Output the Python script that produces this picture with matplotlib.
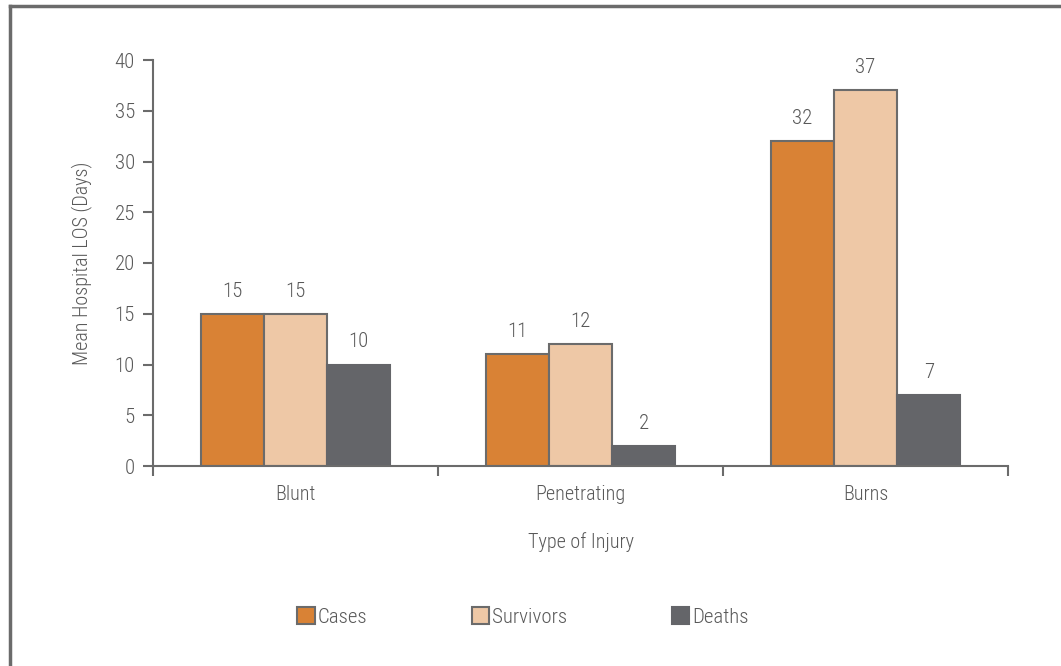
import matplotlib
matplotlib.use("Agg")
import matplotlib.pyplot as plt
import numpy as np
from matplotlib.patches import Patch
from matplotlib.lines import Line2D

plt.rcParams['font.family'] = ['Roboto Condensed', 'DejaVu Sans']
plt.rcParams['font.weight'] = 'light'
plt.rcParams['axes.labelweight'] = 'light'

categories = ["Blunt", "Penetrating", "Burns"]
series = ["Cases", "Survivors", "Deaths"]
cases = [15, 11, 32]
survivors = [15, 12, 37]
deaths = [10, 2, 7]
values = [cases, survivors, deaths]
colors = ["#d98235", "#eec8a6", "#646569"]
edges = ["#6b6b6b", "#6b6b6b", "#646569"]
txt = "#595959"

W, H = 1061, 666
fig = plt.figure(figsize=(W/100, H/100), dpi=100)
ax = fig.add_axes([153/W, 1-466/H, (1008-153)/W, (466-60)/H])

x = np.arange(len(categories))
bw = 0.222
for i, (vals, c, e) in enumerate(zip(values, colors, edges)):
    pos = x + (i-1)*bw
    ax.bar(pos, vals, width=bw, color=c, edgecolor=e, linewidth=1.5, zorder=2)
    for p, v in zip(pos, vals):
        ax.text(p, v+1.3, str(v), ha='center', va='bottom', fontsize=15, color=txt,
                fontweight='light')

ax.set_xlim(-0.5, 2.5)
ax.set_ylim(0, 40)
ax.set_yticks(range(0, 41, 5))
ax.set_xticks([-0.5, 0.5, 1.5, 2.5])
ax.set_xticklabels([])
ax.set_xticks(x, minor=True)
ax.set_xticklabels(categories, minor=True)
ax.tick_params(axis='x', which='minor', length=0, pad=14, labelsize=14.5, labelcolor=txt)
ax.tick_params(axis='x', which='major', length=7, direction='out', width=1.5, color='#6b6b6b')
ax.tick_params(axis='y', length=7, width=1.5, color='#6b6b6b', labelsize=15, labelcolor=txt, pad=6)
for s in ['top', 'right']:
    ax.spines[s].set_visible(False)
for s in ['left', 'bottom']:
    ax.spines[s].set_color('#6b6b6b')
    ax.spines[s].set_linewidth(1.5)
ax.set_ylabel("Mean Hospital LOS (Days)", fontsize=14.5, color=txt, labelpad=16, fontweight='light')
ax.set_xlabel("Type of Injury", fontsize=14.5, color=txt, labelpad=20, fontweight='light')

handles = [Patch(facecolor=c, edgecolor=e, linewidth=1.5) for c, e in zip(colors, edges)]
leg = fig.legend(handles, series, loc='center', bbox_to_anchor=(523/W, 1-617/H), ncol=3,
                 frameon=False, fontsize=15, handlelength=0.85, handleheight=0.85,
                 handletextpad=0.15, columnspacing=5.0, labelcolor=txt,
                 prop={'weight': 'light', 'size': 15})

fig.add_artist(Line2D([10/W, 10/W], [0, 1-6/H], color='#6b6b6b', linewidth=2.5))
fig.add_artist(Line2D([10/W, 1], [1-6/H, 1-6/H], color='#6b6b6b', linewidth=2.5))

fig.savefig("out.png", dpi=100)
